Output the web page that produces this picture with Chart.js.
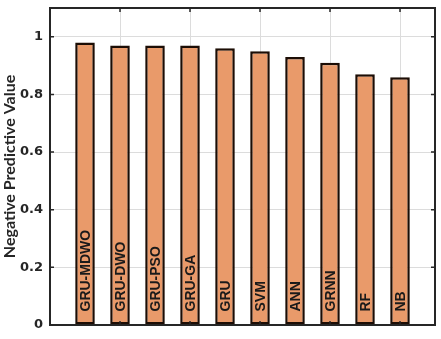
<!DOCTYPE html>
<html>
<head>
<meta charset="utf-8">
<script src="https://cdn.jsdelivr.net/npm/chart.js@4"></script>
<style>
html,body{margin:0;padding:0;background:#fff;}
#wrap{width:441px;height:339px;}
</style>
</head>
<body>
<div id="wrap"><canvas id="c" width="441" height="339"></canvas></div>
<script>
const categories = ['GRU-MDWO','GRU-DWO','GRU-PSO','GRU-GA','GRU','SVM','ANN','GRNN','RF','NB'];
const npvValues = [0.98, 0.97, 0.97, 0.97, 0.96, 0.95, 0.93, 0.91, 0.87, 0.86];
const yTicks = [0, 0.2, 0.4, 0.6, 0.8, 1];
const xGridTicks = [2, 4, 6, 8, 10];

const points = categories.map((c, i) => ({x: i + 1, y: npvValues[i]}));

const boxPlugin = {
  id: 'boxPlugin',
  afterDatasetsDraw(chart) {
    const ctx = chart.ctx;
    const a = chart.chartArea;
    const xs = chart.scales.x, ys = chart.scales.y;
    const meta = chart.getDatasetMeta(0);
    ctx.save();
    ctx.fillStyle = '#1a1a1a';
    ctx.font = 'bold 14px "Liberation Sans", Arial, sans-serif';
    ctx.textAlign = 'left';
    ctx.textBaseline = 'middle';
    meta.data.forEach((bar, i) => {
      ctx.save();
      ctx.translate(bar.x + 1, bar.base - 13);
      ctx.rotate(-Math.PI / 2);
      ctx.fillText(categories[i], 0, 0);
      ctx.restore();
    });
    ctx.restore();
    ctx.save();
    ctx.strokeStyle = '#262626';
    ctx.lineWidth = 2;
    ctx.strokeRect(a.left, a.top, a.right - a.left, a.bottom - a.top);
    ctx.lineWidth = 1.5;
    ctx.beginPath();
    xGridTicks.forEach(v => {
      const px = xs.getPixelForValue(v);
      ctx.moveTo(px, a.top); ctx.lineTo(px, a.top + 4);
      ctx.moveTo(px, a.bottom); ctx.lineTo(px, a.bottom - 4);
    });
    yTicks.forEach(v => {
      const py = ys.getPixelForValue(v);
      ctx.moveTo(a.left, py); ctx.lineTo(a.left + 4, py);
      ctx.moveTo(a.right, py); ctx.lineTo(a.right - 4, py);
    });
    ctx.stroke();
    ctx.restore();
  }
};

new Chart(document.getElementById('c'), {
  type: 'bar',
  data: {
    datasets: [{
      data: points,
      backgroundColor: '#E99A6A',
      borderColor: '#1c0d05',
      borderWidth: 2.5,
      borderSkipped: false,
      barPercentage: 0.56,
      categoryPercentage: 1.0
    }]
  },
  options: {
    responsive: false,
    animation: false,
    devicePixelRatio: 1,
    layout: {padding: {top: 8, right: 6, left: 0, bottom: 0}},
    plugins: {legend: {display: false}, tooltip: {enabled: false}},
    scales: {
      x: {
        type: 'linear',
        offset: false,
        min: 0, max: 11,
        afterBuildTicks(scale) { scale.ticks = xGridTicks.map(v => ({value: v})); },
        afterFit(scale) { scale.height = 14; scale.paddingLeft = 0; scale.paddingRight = 0; },
        ticks: {display: false},
        grid: {color: '#dcdcdc', lineWidth: 1, drawTicks: false, offset: false},
        border: {display: false}
      },
      y: {
        min: 0, max: 1.1,
        afterBuildTicks(scale) { scale.ticks = yTicks.map(v => ({value: v})); },
        afterFit(scale) { scale.width = 50; scale.paddingTop = 0; scale.paddingBottom = 0; },
        ticks: {
          color: '#262626',
          font: {family: '"DejaVu Sans", sans-serif', weight: 'bold', size: 13},
          padding: 7,
          callback: v => String(v)
        },
        grid: {color: '#dcdcdc', lineWidth: 1, drawTicks: false},
        border: {display: false},
        title: {
          display: true,
          text: 'Negative Predictive Value',
          color: '#262626',
          font: {family: 'Lato, "DejaVu Sans", sans-serif', weight: 'bold', size: 16},
          padding: {top: 0, bottom: 0}
        }
      }
    }
  },
  plugins: [boxPlugin]
});
</script>
</body>
</html>
